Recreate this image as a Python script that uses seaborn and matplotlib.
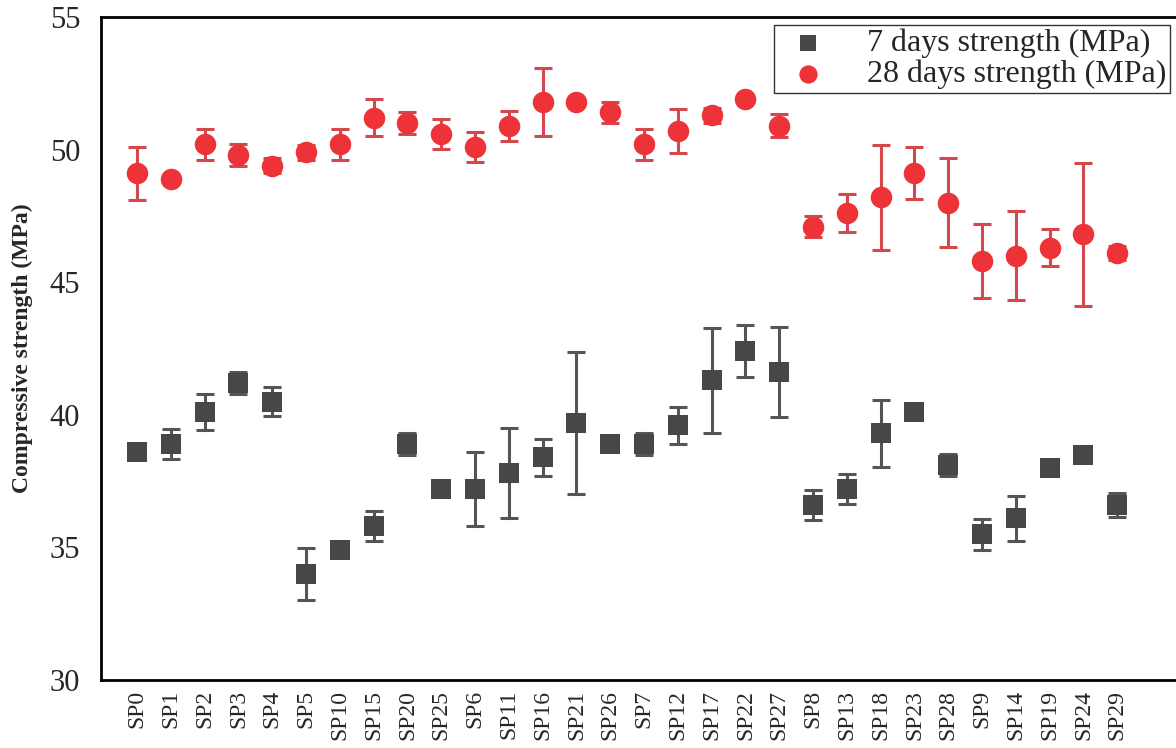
import numpy as np
import pandas as pd
import matplotlib
matplotlib.use("Agg")
import matplotlib.pyplot as plt
import seaborn as sns

samples = ["SP0", "SP1", "SP2", "SP3", "SP4", "SP5", "SP10", "SP15", "SP20", "SP25",
           "SP6", "SP11", "SP16", "SP21", "SP26", "SP7", "SP12", "SP17", "SP22", "SP27",
           "SP8", "SP13", "SP18", "SP23", "SP28", "SP9", "SP14", "SP19", "SP24", "SP29"]

strength_7d = [38.6, 38.9, 40.1, 41.2, 40.5, 34.0, 34.9, 35.8, 38.9, 37.2,
               37.2, 37.8, 38.4, 39.7, 38.9, 38.9, 39.6, 41.3, 42.4, 41.6,
               36.6, 37.2, 39.3, 40.1, 38.1, 35.5, 36.1, 38.0, 38.5, 36.6]
err_7d = [0.05, 0.56, 0.69, 0.42, 0.55, 0.98, 0.05, 0.57, 0.42, 0.05,
          1.40, 1.70, 0.70, 2.67, 0.05, 0.42, 0.71, 1.97, 0.99, 1.70,
          0.55, 0.55, 1.27, 0.05, 0.42, 0.58, 0.84, 0.05, 0.05, 0.45]

strength_28d = [49.1, 48.9, 50.2, 49.8, 49.4, 49.9, 50.2, 51.2, 51.0, 50.6,
                50.1, 50.9, 51.8, 51.8, 51.4, 50.2, 50.7, 51.3, 51.9, 50.9,
                47.1, 47.6, 48.2, 49.1, 48.0, 45.8, 46.0, 46.3, 46.8, 46.1]
err_28d = [0.99, 0.08, 0.59, 0.41, 0.29, 0.28, 0.59, 0.69, 0.43, 0.57,
           0.57, 0.57, 1.29, 0.08, 0.41, 0.59, 0.84, 0.28, 0.10, 0.43,
           0.41, 0.71, 1.98, 0.98, 1.69, 1.40, 1.69, 0.70, 2.69, 0.25]

label_7d = "7 days strength (MPa)"
label_28d = "28 days strength (MPa)"

df = pd.DataFrame({
    "sample": samples,
    "pos": np.arange(len(samples)),
    "s7": strength_7d, "e7": err_7d,
    "s28": strength_28d, "e28": err_28d,
})

sns.set_style("white")
plt.rcParams["font.family"] = ["Liberation Serif", "DejaVu Serif"]

fig = plt.figure(figsize=(11.76, 7.48), dpi=100)
W, H = 1176, 748
ax = fig.add_axes([101 / W, 1 - 680 / H, (1176 - 101) / W, (680 - 17) / H])

gray = "#474747"
gray_err = "#555555"
red = "#EE3338"
red_err = "#D4474A"

ax.errorbar(df["pos"], df["s7"], yerr=df["e7"], fmt="none", ecolor=gray_err,
            elinewidth=2.2, capsize=6.5, capthick=2.2, zorder=2)
ax.errorbar(df["pos"], df["s28"], yerr=df["e28"], fmt="none", ecolor=red_err,
            elinewidth=2.2, capsize=6.5, capthick=2.2, zorder=2)

sns.scatterplot(data=df, x="pos", y="s7", marker="s", s=200, color=gray,
                edgecolor=gray, linewidth=0, label=label_7d, ax=ax, zorder=3)
sns.scatterplot(data=df, x="pos", y="s28", marker="o", s=240, color=red,
                edgecolor=red, linewidth=0, label=label_28d, ax=ax, zorder=3)

ax.set_xlim(-1.065, 30.74)
ax.set_ylim(30, 55)
ax.set_yticks([30, 35, 40, 45, 50, 55])
ax.set_xticks(df["pos"])
ax.set_xticklabels(samples, rotation=90)
ax.set_xlabel("")
ax.set_ylabel("Compressive strength (MPa)", fontsize=17, fontweight="bold", labelpad=12)

ax.tick_params(axis="y", length=0, pad=15, labelsize=22)
ax.tick_params(axis="x", length=0, pad=7, labelsize=17)

for side in ["top", "left", "bottom"]:
    ax.spines[side].set_visible(True)
    ax.spines[side].set_color("black")
    ax.spines[side].set_linewidth(2.0)
ax.spines["right"].set_visible(False)

leg = ax.legend(loc="upper right", bbox_to_anchor=(0.9945, 0.988), fontsize=23,
                frameon=True, fancybox=False, edgecolor="#333333", framealpha=1,
                borderpad=0.12, labelspacing=0.05, handletextpad=0.9,
                handlelength=1.9, borderaxespad=0.0, markerscale=0.85)
leg.get_frame().set_linewidth(1.0)

fig.savefig("out.png", dpi=100)
